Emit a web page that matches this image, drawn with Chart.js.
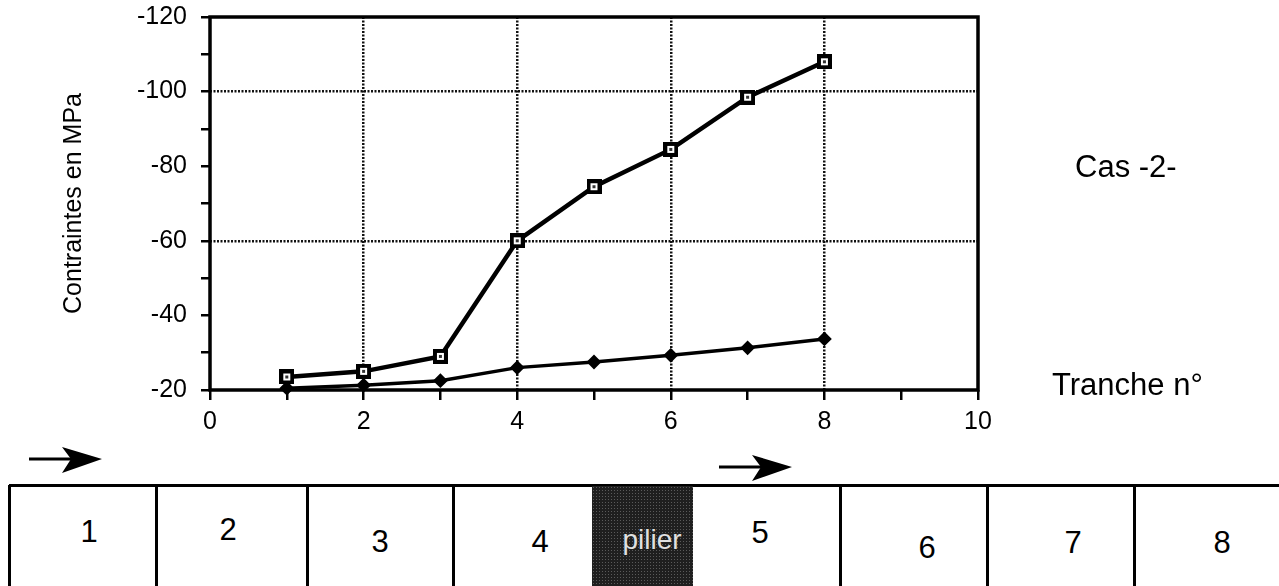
<!DOCTYPE html>
<html>
<head>
<meta charset="utf-8">
<script src="https://cdn.jsdelivr.net/npm/chart.js@4"></script>
<style>
  html, body { margin: 0; padding: 0; background: #fff; }
  body { width: 1279px; height: 586px; position: relative; overflow: hidden;
         font-family: "Liberation Sans", Arial, sans-serif; color: #000; }
  #wrap { position: absolute; left: 0; top: 0; width: 1279px; height: 440px; }
  .txt { position: absolute; line-height: 1; white-space: nowrap; }
  .trait { position: absolute; background: #000; }
  #pilier { position: absolute; background-color: #1f1f1f;
            background-image: radial-gradient(#5a5a5a 0.7px, transparent 0.9px);
            background-size: 3px 3px; }
</style>
</head>
<body>
<div id="wrap"><canvas id="myChart" width="1279" height="440"></canvas></div>

<span class="txt" style="left:1075px; top:151px; font-size:31px;">Cas -2-</span>
<span class="txt" style="left:1052px; top:369px; font-size:31px;">Tranche n°</span>

<svg style="position:absolute; left:0; top:440px;" width="1279" height="42">
  <line x1="29" y1="19" x2="80" y2="19" stroke="#000" stroke-width="3"/>
  <polygon points="62,7 102,19 62,33 71,19" fill="#000"/>
  <line x1="719" y1="27" x2="770" y2="27" stroke="#000" stroke-width="3"/>
  <polygon points="752,15 792,27 752,41 761,27" fill="#000"/>
</svg>

<div id="tranches"></div>

<script>
// valeurs (Cas -2-)
var tranches = [1, 2, 3, 4, 5, 6, 7, 8];
var contraintesCarres = [-23.5, -25, -29, -60, -74.5, -84.5, -98.5, -108];
var contraintesLosanges = [-20.5, -21.3, -22.5, -26, -27.5, -29.3, -31.3, -33.7];
var xLabels = [0, 2, 4, 6, 8, 10];
var yLabels = [-120, -100, -80, -60, -40, -20];
var gridX = [2, 4, 6, 8];
var gridY = [-100, -60];

// schema des tranches sous le graphique
var cases = ["1", "2", "3", "4", "pilier", "5", "6", "7", "8"];
var bords = [9, 156, 307, 453, 592, 693, 840, 987, 1134, 1300];
var texteX = [89, 228, 380, 540, 652, 760, 927, 1073, 1222];
var texteBase = [542, 540, 552, 552, 550, 543, 558, 553, 553];

var schema = document.getElementById("tranches");
var html = '<div class="trait" style="left:9px; top:484px; width:1290px; height:3px;"></div>';
for (var i = 0; i < cases.length; i++) {
  var fs = cases[i] == "pilier" ? 28 : 31;
  if (cases[i] == "pilier") {
    html += '<div id="pilier" style="left:' + bords[i] + 'px; top:486px; width:' +
      (bords[i + 1] - bords[i]) + 'px; height:110px;"></div>';
  } else if (cases[i - 1] != "pilier") {
    html += '<div class="trait" style="left:' + (bords[i] - 1) + 'px; top:485px; width:3px; height:110px;"></div>';
  }
  html += '<span class="txt" style="left:' + texteX[i] + 'px; top:' + (texteBase[i] - 0.85 * fs) +
    'px; font-size:' + fs + 'px; transform:translateX(-50%);' +
    (cases[i] == "pilier" ? ' color:#e0e0e0;' : '') + '">' + cases[i] + '</span>';
}
schema.innerHTML = html;

function carre() {
  var c = document.createElement("canvas");
  c.width = 15;
  c.height = 15;
  var g = c.getContext("2d");
  g.fillStyle = "#000";
  g.fillRect(0, 0, 15, 15);
  g.fillStyle = "#fff";
  g.fillRect(4, 4, 7, 7);
  g.fillStyle = "#333";
  g.fillRect(6, 6, 3, 3);
  return c;
}

var cadre = {
  id: "cadre",
  beforeDatasetsDraw: function (chart) {
    var a = chart.chartArea;
    var ctx = chart.ctx;
    ctx.save();
    ctx.lineWidth = 3.5;
    ctx.strokeStyle = "#000";
    ctx.strokeRect(a.left, a.top, a.right - a.left, a.bottom - a.top);
    ctx.restore();
  }
};

var police = { family: "'Liberation Sans', Arial, sans-serif", size: 25 };

var ctx = document.getElementById("myChart").getContext("2d");
var chart = new Chart(ctx, {
  type: "line",
  data: {
    datasets: [
      {
        data: tranches.map(function (t, i) { return { x: t, y: contraintesCarres[i] }; }),
        borderColor: "#000",
        borderWidth: 4.5,
        pointStyle: carre(),
        pointRadius: 8,
        fill: false,
        clip: false
      },
      {
        data: tranches.map(function (t, i) { return { x: t, y: contraintesLosanges[i] }; }),
        borderColor: "#000",
        backgroundColor: "#000",
        borderWidth: 3.5,
        pointStyle: "rectRot",
        pointRadius: 6,
        pointBorderWidth: 2,
        fill: false,
        clip: false
      }
    ]
  },
  options: {
    responsive: false,
    animation: false,
    layout: { padding: { left: 55, right: 301, top: 17, bottom: 0 } },
    plugins: { legend: { display: false }, tooltip: { enabled: false } },
    scales: {
      x: {
        type: "linear",
        min: 0,
        max: 10,
        afterFit: function (s) { s.height = 50; s.paddingLeft = 0; s.paddingRight = 0; },
        ticks: {
          stepSize: 1,
          autoSkip: false,
          maxRotation: 0,
          padding: 7,
          color: "#000",
          font: police,
          callback: function (v) { return xLabels.indexOf(v) >= 0 ? String(v) : ""; }
        },
        grid: {
          lineWidth: 2.5,
          tickLength: 10,
          tickColor: "#000",
          tickWidth: 2.5,
          color: function (c) { return gridX.indexOf(c.tick && c.tick.value) >= 0 ? "#111" : "transparent"; }
        },
        border: { display: false, dash: [2, 1.5] }
      },
      y: {
        type: "linear",
        min: -120,
        max: -20,
        reverse: true,
        afterFit: function (s) { s.width = 155; s.paddingTop = 0; s.paddingBottom = 0; },
        title: {
          display: true,
          text: "Contraintes en MPa",
          color: "#000",
          font: police
        },
        ticks: {
          stepSize: 10,
          autoSkip: false,
          padding: 14,
          color: "#000",
          font: police,
          callback: function (v) { return yLabels.indexOf(v) >= 0 ? String(v) : ""; }
        },
        grid: {
          lineWidth: 2.5,
          tickLength: 9,
          tickColor: "#000",
          tickWidth: 2.5,
          color: function (c) { return gridY.indexOf(c.tick && c.tick.value) >= 0 ? "#111" : "transparent"; }
        },
        border: { display: false, dash: [2, 1.5] }
      }
    }
  },
  plugins: [cadre]
});
</script>
</body>
</html>
